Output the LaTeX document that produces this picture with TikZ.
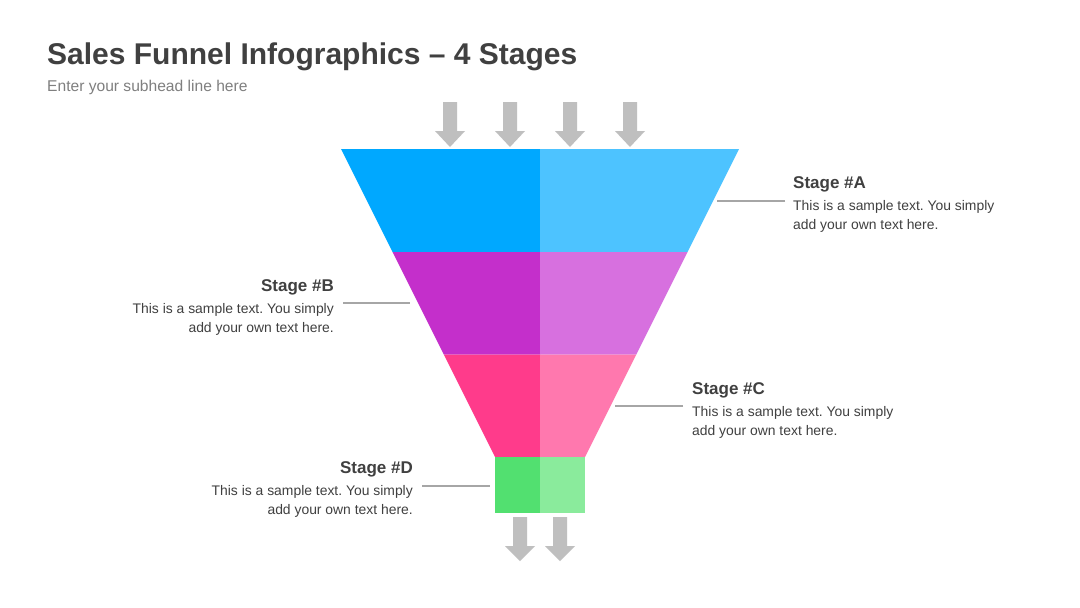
\documentclass[tikz,border=0pt]{standalone}
\usepackage{fontspec}
\setmainfont{Liberation Sans}
\frenchspacing
\definecolor{txt}{HTML}{404040}
\definecolor{sub}{HTML}{7F7F7F}
\definecolor{arr}{HTML}{BFBFBF}
\definecolor{lin}{HTML}{A6A6A6}
\definecolor{aL}{HTML}{00A8FF}
\definecolor{aR}{HTML}{4DC3FF}
\definecolor{bL}{HTML}{C42FCB}
\definecolor{bR}{HTML}{D770DF}
\definecolor{cL}{HTML}{FF3B8B}
\definecolor{cR}{HTML}{FF78AE}
\definecolor{dL}{HTML}{52E070}
\definecolor{dR}{HTML}{8AEB9C}
\begin{document}
\begin{tikzpicture}[x=1pt,y=-1pt,
  txtnode/.style={inner sep=0pt,text=txt},
  stagetitle/.style={txtnode,font=\fontsize{17}{20}\selectfont\bfseries},
  stagebody/.style={txtnode,font=\fontsize{13.9}{16}\selectfont},
  leader/.style={draw=lin,line width=1.1pt},
  grayarrow/.style={fill=arr}]
\useasboundingbox (0,0) rectangle (1080,608);
\fill[white] (0,0) rectangle (1080,608);
% title
\node[txtnode,anchor=base west,font=\fontsize{30}{34}\selectfont\bfseries] (title) at (47,64.5) {Sales Funnel Infographics – 4 Stages};
\node[txtnode,anchor=base west,text=sub,font=\fontsize{15.6}{18}\selectfont] (subtitle) at (47,91.5) {Enter your subhead line here};
% funnel bands
\fill[aL] (341,149) -- (540,149) -- (540,252) -- (392.5,252) -- cycle;
\fill[aR] (540,149) -- (739,149) -- (687.5,252) -- (540,252) -- cycle;
\fill[bL] (392.5,252) -- (540,252) -- (540,354.5) -- (443.75,354.5) -- cycle;
\fill[bR] (540,252) -- (687.5,252) -- (636.25,354.5) -- (540,354.5) -- cycle;
\fill[cL] (443.75,354.5) -- (540,354.5) -- (540,457) -- (495,457) -- cycle;
\fill[cR] (540,354.5) -- (636.25,354.5) -- (585,457) -- (540,457) -- cycle;
\fill[dL] (495,457) rectangle (540,513);
\fill[dR] (540,457) rectangle (585,513);
% arrows
\foreach \cx/\ty/\hy/\by in {450/102/131/147,510/102/131/147,570/102/131/147,630/102/131/147,520/517/546/561,560/517/546/561}{
  \fill[grayarrow] (\cx-7,\ty) -- (\cx+7,\ty) -- (\cx+7,\hy) -- (\cx+15,\hy) -- (\cx,\by) -- (\cx-15,\hy) -- (\cx-7,\hy) -- cycle;
}
% Stage A
\node[stagetitle,anchor=base west] (tA) at (793,188.5) {Stage \#A};
\node[stagebody,anchor=base west] (bA1) at (793,210.5) {This is a sample text. You simply};
\node[stagebody,anchor=base west] (bA2) at (793,229.5) {add your own text here.};
\coordinate (lA1) at (785,201); \coordinate (lA2) at (717,201);
\draw[leader] (lA1) -- (lA2);
% Stage B
\node[stagetitle,anchor=base east] (tB) at (334,291.5) {Stage \#B};
\node[stagebody,anchor=base east] (bB1) at (334,313.5) {This is a sample text. You simply};
\node[stagebody,anchor=base east] (bB2) at (334,332.5) {add your own text here.};
\coordinate (lB1) at (343,303); \coordinate (lB2) at (410,303);
\draw[leader] (lB1) -- (lB2);
% Stage C
\node[stagetitle,anchor=base west] (tC) at (692,394.5) {Stage \#C};
\node[stagebody,anchor=base west] (bC1) at (692,416.5) {This is a sample text. You simply};
\node[stagebody,anchor=base west] (bC2) at (692,435.5) {add your own text here.};
\coordinate (lC1) at (683,406); \coordinate (lC2) at (615,406);
\draw[leader] (lC1) -- (lC2);
% Stage D
\node[stagetitle,anchor=base east] (tD) at (413,473.5) {Stage \#D};
\node[stagebody,anchor=base east] (bD1) at (413,495.5) {This is a sample text. You simply};
\node[stagebody,anchor=base east] (bD2) at (413,514.5) {add your own text here.};
\coordinate (lD1) at (422,486); \coordinate (lD2) at (490,486);
\draw[leader] (lD1) -- (lD2);
\end{tikzpicture}
\end{document}
